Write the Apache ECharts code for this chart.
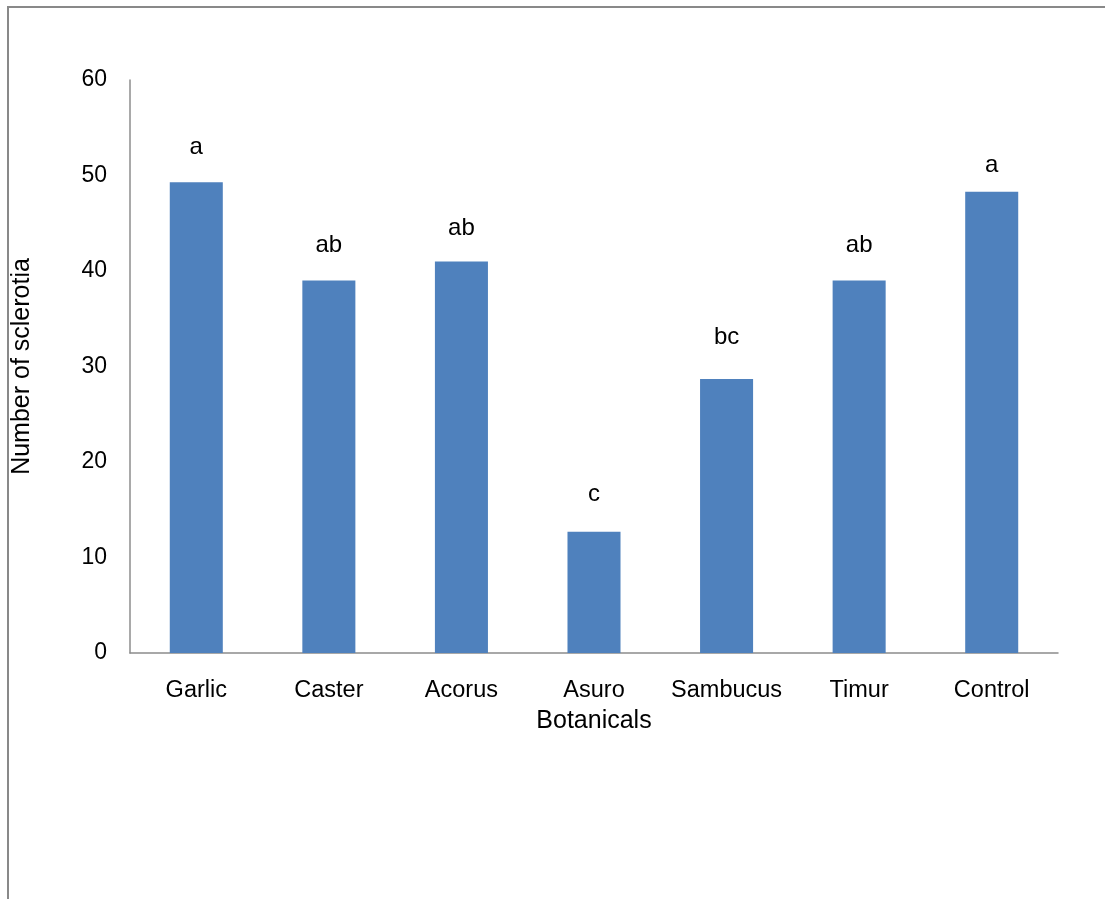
<!DOCTYPE html>
<html><head><meta charset="utf-8">
<script src="https://cdn.jsdelivr.net/npm/echarts@6/dist/echarts.min.js"></script>
<style>html,body{margin:0;padding:0;background:#fff}#c{width:1105px;height:899px}</style>
</head><body><div id="c"></div>
<script>
const categories = ['Garlic','Caster','Acorus','Asuro','Sambucus','Timur','Control'];
const sclerotia = [49.3, 39.0, 41.0, 12.7, 28.7, 39.0, 48.3];
const letters = ['a','ab','ab','c','bc','ab','a'];
const letterHeights = [52.9, 42.7, 44.5, 16.6, 33.0, 42.7, 51.1];
const yTicks = [0, 10, 20, 30, 40, 50, 60];

const chart = echarts.init(document.getElementById('c'), null, {renderer:'canvas'});
const font = 'Liberation Sans, Arial, sans-serif';
chart.setOption({
  animation:false,
  textStyle:{fontFamily:font},
  graphic:[{type:'rect', shape:{x:8,y:7,width:1200,height:1000}, style:{fill:null, stroke:'#898989', lineWidth:2}, silent:true}],
  grid:{left:130, right:47, top:80, bottom:246},
  xAxis:{type:'category', data:categories,
    name:'Botanicals', nameLocation:'middle', nameGap:56,
    nameTextStyle:{fontSize:25, color:'#000', fontFamily:font},
    axisLine:{lineStyle:{color:'#8c8c8c', width:1.5}}, axisTick:{show:false},
    axisLabel:{fontSize:23.5, color:'#000', margin:26, interval:0, fontFamily:font}},
  yAxis:{type:'value', min:yTicks[0], max:yTicks[yTicks.length-1], interval:10,
    name:'Number of sclerotia', nameLocation:'middle', nameGap:95, nameRotate:90,
    nameTextStyle:{fontSize:25, color:'#000', fontFamily:font},
    axisLine:{show:true, lineStyle:{color:'#8c8c8c', width:1.5}}, axisTick:{show:false},
    splitLine:{show:false},
    axisLabel:{fontSize:23, color:'#000', margin:23, fontFamily:font}},
  series:[
    {type:'bar', data:sclerotia, barWidth:'40%', itemStyle:{color:'#4f81bd'}},
    {type:'scatter', data:letterHeights, symbolSize:0, silent:true, itemStyle:{opacity:1},
      label:{show:true, position:'inside', fontSize:24, color:'#000', opacity:1, fontFamily:font,
        formatter:p=>letters[p.dataIndex]}}
  ]
});
</script></body></html>
